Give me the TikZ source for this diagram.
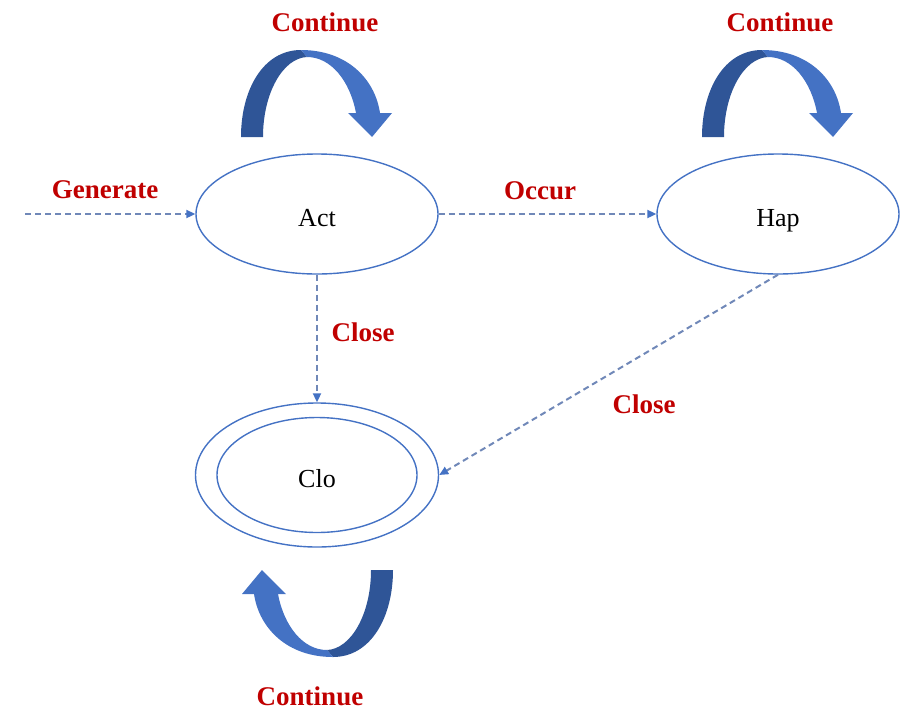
\documentclass[tikz,border=0pt]{standalone}
\usepackage{fontspec}
\setmainfont{Liberation Serif}
\usetikzlibrary{shapes.geometric,arrows.meta}

\definecolor{stroke}{RGB}{68,114,196}
\definecolor{dashc}{RGB}{112,136,184}
\definecolor{lbl}{RGB}{192,0,0}
\definecolor{curldark}{RGB}{47,85,151}
\definecolor{curllight}{RGB}{68,114,196}

\tikzset{
  state/.style={ellipse, draw=stroke, line width=1.4pt, inner sep=0pt,
    minimum width=242pt, minimum height=120pt,
    text height=26pt, text depth=2pt,
    font=\fontsize{26}{28}\selectfont},
  trans/.style={draw=dashc, line width=2pt, dash pattern=on 6pt off 4pt,
    -{Triangle[length=9pt,width=8pt,color=stroke]}},
  lab/.style={text=lbl, inner sep=0pt, font=\fontsize{27}{30}\selectfont\bfseries},
  % thick curved self-loop arrow, origin at the outer foot of its tail
  curl/.pic={
    \fill[curldark] (0,0) -- (22,0)
      .. controls (22,-44) and (42,-79) .. (66,-80)
      -- (60,-87) .. controls (22,-87) and (0,-47) .. cycle;
    \fill[curllight] (60,-87)
      .. controls (106,-87) and (134,-58) .. (139,-24)
      -- (151,-24) -- (131,0) -- (107,-24) -- (115,-24)
      .. controls (109,-56) and (90,-80) .. (66,-80) -- cycle;
  }
}

\begin{document}
\begin{tikzpicture}[x=1pt,y=-1pt]
  \useasboundingbox (0,0) rectangle (902,710);

  % states
  \node[state] (act) at (317,214) {Act};
  \node[state] (hap) at (778,214) {Hap};
  \node[state, minimum width=243pt, minimum height=144pt] (clo) at (317,475) {};
  \node[state, minimum width=200pt, minimum height=115pt] (cloin) at (317,475) {Clo};

  % self loops
  \pic at (241,137) {curl};
  \pic at (702,137) {curl};
  \pic[rotate=180] at (393,570) {curl};

  % transitions
  \coordinate (start) at (25,214);
  \draw[trans] (start) -- (act.west);
  \draw[trans] (act.east) -- (hap.west);
  \draw[trans] (act.south) -- (clo.north);
  \draw[trans] (hap.south) -- (clo.east);

  % labels
  \node[lab] (lcontact) at (325,22) {Continue};
  \node[lab] (lconthap) at (780,22) {Continue};
  \node[lab] (lcontclo) at (310,696) {Continue};
  \node[lab] (lgen) at (105,190) {Generate};
  \node[lab] (locc) at (540,191) {Occur};
  \node[lab] (lclose1) at (363,332) {Close};
  \node[lab] (lclose2) at (644,404) {Close};
\end{tikzpicture}
\end{document}
